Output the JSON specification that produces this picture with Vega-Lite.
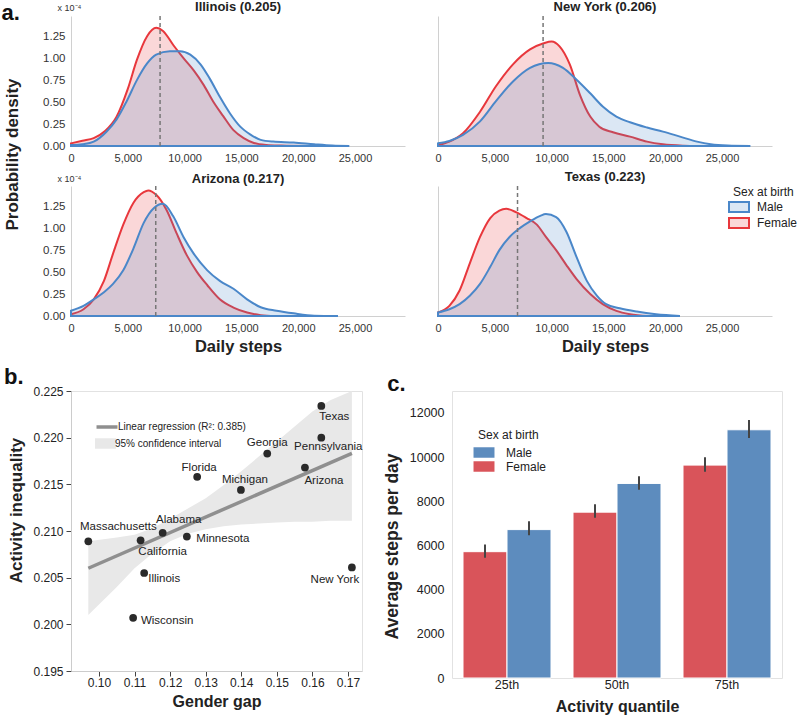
{
"$schema": "https://vega.github.io/schema/vega-lite/v6.json",
"padding": {"left": 1, "top": 0, "right": 0, "bottom": 0},
"config": {"font": "Liberation Sans", "view": {"stroke": null}, "title": {"font": "Liberation Sans"}},
"resolve": {"scale": {"fill": "independent", "stroke": "independent", "color": "independent"}},
"datasets": {
"kde": [
{"state":"Illinois","sex":"Female","steps":0,"density":0.03},{"state":"Illinois","sex":"Female","steps":1000,"density":0.06},{"state":"Illinois","sex":"Female","steps":2000,"density":0.09},{"state":"Illinois","sex":"Female","steps":3000,"density":0.17},{"state":"Illinois","sex":"Female","steps":4000,"density":0.33},{"state":"Illinois","sex":"Female","steps":5000,"density":0.65},{"state":"Illinois","sex":"Female","steps":5800,"density":0.98},{"state":"Illinois","sex":"Female","steps":6700,"density":1.25},{"state":"Illinois","sex":"Female","steps":7500,"density":1.345},{"state":"Illinois","sex":"Female","steps":8100,"density":1.31},{"state":"Illinois","sex":"Female","steps":9000,"density":1.15},{"state":"Illinois","sex":"Female","steps":9900,"density":1.0},{"state":"Illinois","sex":"Female","steps":10800,"density":0.86},{"state":"Illinois","sex":"Female","steps":11700,"density":0.69},{"state":"Illinois","sex":"Female","steps":12500,"density":0.51},{"state":"Illinois","sex":"Female","steps":13400,"density":0.34},{"state":"Illinois","sex":"Female","steps":14300,"density":0.18},{"state":"Illinois","sex":"Female","steps":15200,"density":0.09},{"state":"Illinois","sex":"Female","steps":16100,"density":0.035},{"state":"Illinois","sex":"Female","steps":17200,"density":0.012},{"state":"Illinois","sex":"Female","steps":18500,"density":0.005},{"state":"Illinois","sex":"Female","steps":21000,"density":0},
{"state":"Illinois","sex":"Male","steps":0,"density":0.01},{"state":"Illinois","sex":"Male","steps":1000,"density":0.02},{"state":"Illinois","sex":"Male","steps":2000,"density":0.05},{"state":"Illinois","sex":"Male","steps":3100,"density":0.16},{"state":"Illinois","sex":"Male","steps":4000,"density":0.3},{"state":"Illinois","sex":"Male","steps":4900,"density":0.51},{"state":"Illinois","sex":"Male","steps":5800,"density":0.75},{"state":"Illinois","sex":"Male","steps":6700,"density":0.94},{"state":"Illinois","sex":"Male","steps":7500,"density":1.04},{"state":"Illinois","sex":"Male","steps":8700,"density":1.08},{"state":"Illinois","sex":"Male","steps":9600,"density":1.08},{"state":"Illinois","sex":"Male","steps":10500,"density":1.04},{"state":"Illinois","sex":"Male","steps":11400,"density":0.93},{"state":"Illinois","sex":"Male","steps":12200,"density":0.77},{"state":"Illinois","sex":"Male","steps":13100,"density":0.56},{"state":"Illinois","sex":"Male","steps":14000,"density":0.37},{"state":"Illinois","sex":"Male","steps":14900,"density":0.22},{"state":"Illinois","sex":"Male","steps":15800,"density":0.13},{"state":"Illinois","sex":"Male","steps":16700,"density":0.07},{"state":"Illinois","sex":"Male","steps":17800,"density":0.05},{"state":"Illinois","sex":"Male","steps":19600,"density":0.04},{"state":"Illinois","sex":"Male","steps":21400,"density":0.02},{"state":"Illinois","sex":"Male","steps":23000,"density":0.005},{"state":"Illinois","sex":"Male","steps":24500,"density":0},
{"state":"New York","sex":"Female","steps":0,"density":0.01},{"state":"New York","sex":"Female","steps":1000,"density":0.05},{"state":"New York","sex":"Female","steps":2200,"density":0.145},{"state":"New York","sex":"Female","steps":3700,"density":0.39},{"state":"New York","sex":"Female","steps":5100,"density":0.68},{"state":"New York","sex":"Female","steps":6600,"density":0.93},{"state":"New York","sex":"Female","steps":8100,"density":1.1},{"state":"New York","sex":"Female","steps":9300,"density":1.17},{"state":"New York","sex":"Female","steps":10000,"density":1.19},{"state":"New York","sex":"Female","steps":10700,"density":1.135},{"state":"New York","sex":"Female","steps":11600,"density":0.93},{"state":"New York","sex":"Female","steps":12500,"density":0.58},{"state":"New York","sex":"Female","steps":13400,"density":0.335},{"state":"New York","sex":"Female","steps":14200,"density":0.22},{"state":"New York","sex":"Female","steps":15400,"density":0.156},{"state":"New York","sex":"Female","steps":16900,"density":0.107},{"state":"New York","sex":"Female","steps":18400,"density":0.05},{"state":"New York","sex":"Female","steps":19800,"density":0.02},{"state":"New York","sex":"Female","steps":21600,"density":0.004},{"state":"New York","sex":"Female","steps":23000,"density":0},
{"state":"New York","sex":"Male","steps":0,"density":0.03},{"state":"New York","sex":"Male","steps":1000,"density":0.057},{"state":"New York","sex":"Male","steps":2200,"density":0.126},{"state":"New York","sex":"Male","steps":3700,"density":0.28},{"state":"New York","sex":"Male","steps":5100,"density":0.51},{"state":"New York","sex":"Male","steps":6600,"density":0.735},{"state":"New York","sex":"Male","steps":8100,"density":0.89},{"state":"New York","sex":"Male","steps":9700,"density":0.945},{"state":"New York","sex":"Male","steps":11000,"density":0.89},{"state":"New York","sex":"Male","steps":12200,"density":0.755},{"state":"New York","sex":"Male","steps":13400,"density":0.6},{"state":"New York","sex":"Male","steps":14500,"density":0.45},{"state":"New York","sex":"Male","steps":15700,"density":0.335},{"state":"New York","sex":"Male","steps":16900,"density":0.27},{"state":"New York","sex":"Male","steps":18400,"density":0.21},{"state":"New York","sex":"Male","steps":19800,"density":0.164},{"state":"New York","sex":"Male","steps":21300,"density":0.107},{"state":"New York","sex":"Male","steps":22800,"density":0.05},{"state":"New York","sex":"Male","steps":24000,"density":0.02},{"state":"New York","sex":"Male","steps":25500,"density":0.005},{"state":"New York","sex":"Male","steps":27500,"density":0},
{"state":"Arizona","sex":"Female","steps":0,"density":0.02},{"state":"Arizona","sex":"Female","steps":1100,"density":0.077},{"state":"Arizona","sex":"Female","steps":2000,"density":0.19},{"state":"Arizona","sex":"Female","steps":2900,"density":0.4},{"state":"Arizona","sex":"Female","steps":3700,"density":0.71},{"state":"Arizona","sex":"Female","steps":4600,"density":1.04},{"state":"Arizona","sex":"Female","steps":5500,"density":1.29},{"state":"Arizona","sex":"Female","steps":6400,"density":1.41},{"state":"Arizona","sex":"Female","steps":6800,"density":1.43},{"state":"Arizona","sex":"Female","steps":7500,"density":1.38},{"state":"Arizona","sex":"Female","steps":8400,"density":1.21},{"state":"Arizona","sex":"Female","steps":9300,"density":0.94},{"state":"Arizona","sex":"Female","steps":10200,"density":0.69},{"state":"Arizona","sex":"Female","steps":11100,"density":0.5},{"state":"Arizona","sex":"Female","steps":12000,"density":0.35},{"state":"Arizona","sex":"Female","steps":13100,"density":0.19},{"state":"Arizona","sex":"Female","steps":14300,"density":0.096},{"state":"Arizona","sex":"Female","steps":15500,"density":0.04},{"state":"Arizona","sex":"Female","steps":16700,"density":0.01},{"state":"Arizona","sex":"Female","steps":18000,"density":0},
{"state":"Arizona","sex":"Male","steps":0,"density":0.06},{"state":"Arizona","sex":"Male","steps":1100,"density":0.115},{"state":"Arizona","sex":"Male","steps":2000,"density":0.19},{"state":"Arizona","sex":"Male","steps":2900,"density":0.27},{"state":"Arizona","sex":"Male","steps":3700,"density":0.365},{"state":"Arizona","sex":"Male","steps":4600,"density":0.52},{"state":"Arizona","sex":"Male","steps":5500,"density":0.77},{"state":"Arizona","sex":"Male","steps":6400,"density":1.06},{"state":"Arizona","sex":"Male","steps":7300,"density":1.23},{"state":"Arizona","sex":"Male","steps":8100,"density":1.277},{"state":"Arizona","sex":"Male","steps":9000,"density":1.135},{"state":"Arizona","sex":"Male","steps":9900,"density":0.9},{"state":"Arizona","sex":"Male","steps":10800,"density":0.71},{"state":"Arizona","sex":"Male","steps":12000,"density":0.52},{"state":"Arizona","sex":"Male","steps":13100,"density":0.4},{"state":"Arizona","sex":"Male","steps":14300,"density":0.31},{"state":"Arizona","sex":"Male","steps":15500,"density":0.19},{"state":"Arizona","sex":"Male","steps":16700,"density":0.1},{"state":"Arizona","sex":"Male","steps":18100,"density":0.06},{"state":"Arizona","sex":"Male","steps":19600,"density":0.03},{"state":"Arizona","sex":"Male","steps":21400,"density":0.004},{"state":"Arizona","sex":"Male","steps":23500,"density":0},
{"state":"Texas","sex":"Female","steps":0,"density":0.04},{"state":"Texas","sex":"Female","steps":1000,"density":0.115},{"state":"Texas","sex":"Female","steps":1900,"density":0.29},{"state":"Texas","sex":"Female","steps":2800,"density":0.6},{"state":"Texas","sex":"Female","steps":3700,"density":0.9},{"state":"Texas","sex":"Female","steps":4600,"density":1.115},{"state":"Texas","sex":"Female","steps":5400,"density":1.2},{"state":"Texas","sex":"Female","steps":6000,"density":1.22},{"state":"Texas","sex":"Female","steps":6900,"density":1.18},{"state":"Texas","sex":"Female","steps":7800,"density":1.115},{"state":"Texas","sex":"Female","steps":8700,"density":1.04},{"state":"Texas","sex":"Female","steps":9500,"density":0.9},{"state":"Texas","sex":"Female","steps":10400,"density":0.75},{"state":"Texas","sex":"Female","steps":11300,"density":0.58},{"state":"Texas","sex":"Female","steps":12200,"density":0.42},{"state":"Texas","sex":"Female","steps":13400,"density":0.25},{"state":"Texas","sex":"Female","steps":14500,"density":0.135},{"state":"Texas","sex":"Female","steps":15700,"density":0.058},{"state":"Texas","sex":"Female","steps":16900,"density":0.02},{"state":"Texas","sex":"Female","steps":18500,"density":0},
{"state":"Texas","sex":"Male","steps":0,"density":0.04},{"state":"Texas","sex":"Male","steps":1000,"density":0.077},{"state":"Texas","sex":"Male","steps":1900,"density":0.135},{"state":"Texas","sex":"Male","steps":2800,"density":0.23},{"state":"Texas","sex":"Male","steps":3700,"density":0.365},{"state":"Texas","sex":"Male","steps":4600,"density":0.56},{"state":"Texas","sex":"Male","steps":5400,"density":0.75},{"state":"Texas","sex":"Male","steps":6300,"density":0.9},{"state":"Texas","sex":"Male","steps":7200,"density":1.0},{"state":"Texas","sex":"Male","steps":8100,"density":1.077},{"state":"Texas","sex":"Male","steps":9000,"density":1.14},{"state":"Texas","sex":"Male","steps":9500,"density":1.16},{"state":"Texas","sex":"Male","steps":10400,"density":1.127},{"state":"Texas","sex":"Male","steps":11300,"density":0.96},{"state":"Texas","sex":"Male","steps":12200,"density":0.67},{"state":"Texas","sex":"Male","steps":13100,"density":0.4},{"state":"Texas","sex":"Male","steps":14000,"density":0.23},{"state":"Texas","sex":"Male","steps":14800,"density":0.135},{"state":"Texas","sex":"Male","steps":16000,"density":0.088},{"state":"Texas","sex":"Male","steps":17500,"density":0.05},{"state":"Texas","sex":"Male","steps":19200,"density":0.02},{"state":"Texas","sex":"Male","steps":21300,"density":0}
],
"med": [{"state":"Illinois","median":7840},{"state":"New York","median":9250},{"state":"Arizona","median":7460},{"state":"Texas","median":7000}],
"gap": [
{"state":"Massachusetts","gap":0.097,"inequality":0.2089},{"state":"California","gap":0.1117,"inequality":0.209},{"state":"Alabama","gap":0.1179,"inequality":0.2098},{"state":"Minnesota","gap":0.1247,"inequality":0.2094},{"state":"Illinois","gap":0.1127,"inequality":0.2055},{"state":"Wisconsin","gap":0.1096,"inequality":0.2007},{"state":"Florida","gap":0.1276,"inequality":0.2158},{"state":"Michigan","gap":0.1399,"inequality":0.2144},{"state":"Georgia","gap":0.1473,"inequality":0.2183},{"state":"Arizona","gap":0.1579,"inequality":0.2168},{"state":"Pennsylvania","gap":0.1625,"inequality":0.22},{"state":"Texas","gap":0.1625,"inequality":0.2234},{"state":"New York","gap":0.1711,"inequality":0.2061}
],
"ci": [
{"gap":0.097,"lo":0.201,"hi":0.2089},{"gap":0.105,"lo":0.204,"hi":0.2093},{"gap":0.11,"lo":0.206,"hi":0.2096},{"gap":0.115,"lo":0.2076,"hi":0.2103},{"gap":0.12,"lo":0.2089,"hi":0.2113},{"gap":0.125,"lo":0.2097,"hi":0.2124},{"gap":0.13,"lo":0.2102,"hi":0.2135},{"gap":0.135,"lo":0.2105,"hi":0.2149},{"gap":0.14,"lo":0.2107,"hi":0.2164},{"gap":0.145,"lo":0.2108,"hi":0.218},{"gap":0.15,"lo":0.2109,"hi":0.2196},{"gap":0.155,"lo":0.211,"hi":0.2212},{"gap":0.16,"lo":0.211,"hi":0.2228},{"gap":0.165,"lo":0.2111,"hi":0.224},{"gap":0.1711,"lo":0.2111,"hi":0.225}
],
"bars": [
{"quantile":"25th","sex":"Female","steps":5720,"lo":5450,"hi":6050},{"quantile":"25th","sex":"Male","steps":6720,"lo":6460,"hi":7100},{"quantile":"50th","sex":"Female","steps":7510,"lo":7260,"hi":7870},{"quantile":"50th","sex":"Male","steps":8810,"lo":8520,"hi":9140},{"quantile":"75th","sex":"Female","steps":9640,"lo":9340,"hi":10000},{"quantile":"75th","sex":"Male","steps":11240,"lo":10870,"hi":11680}
]
},
"align": "none",
"spacing": 10,
"vconcat": [
{
"columns": 2,
"spacing": {"row": 40, "column": 33},
"bounds": "flush",
"resolve": {"scale": {"fill": "independent", "stroke": "independent"}},
"concat": [
{
"width": 334, "height": 130,
"title": {"text": "Illinois (0.205)", "fontSize": 13, "fontWeight": "bold", "offset": -12, "color": "#222"},
"resolve": {"axis": {"x": "independent", "y": "independent"}},
"layer": [
{"data": {"name": "kde"}, "transform": [{"filter": "datum.state === 'Illinois' && datum.sex === 'Female'"}],
"mark": {"type": "area", "interpolate": "monotone", "fillOpacity": 0.2, "strokeWidth": 2},
"encoding": {
"x": {"field": "steps", "type": "quantitative", "scale": {"domain": [0, 29400], "nice": false, "zero": false}, "axis": {"orient": "bottom", "values": [0, 5000, 10000, 15000, 20000, 25000], "format": ",d", "labelFontSize": 11, "labelColor": "#333", "ticks": false, "domainColor": "#d0d0d0", "grid": false, "labelPadding": 6, "labelFlush": false, "title": null}},
"y": {"field": "density", "type": "quantitative", "scale": {"domain": [0, 1.48], "nice": false}, "axis": {"orient": "left", "values": [0, 0.25, 0.5, 0.75, 1, 1.25], "format": ".2f", "labelFontSize": 11.5, "labelColor": "#333", "ticks": false, "domainColor": "#d0d0d0", "grid": false, "labelPadding": 6, "title": "x 10⁻⁴", "titleAngle": 0, "titleX": -2, "titleY": -9, "titleAlign": "center", "titleBaseline": "middle", "titleFontSize": 9, "titleFontWeight": "normal", "titleColor": "#333"}},
"fill": {"field": "sex", "type": "nominal", "scale": {"domain": ["Male", "Female"], "range": ["#4a87c9", "#e8373c"]}, "legend": null},
"stroke": {"field": "sex", "type": "nominal", "scale": {"domain": ["Male", "Female"], "range": ["#4a87c9", "#e8373c"]}, "legend": null}
}},
{"data": {"name": "kde"}, "transform": [{"filter": "datum.state === 'Illinois' && datum.sex === 'Male'"}],
"mark": {"type": "area", "interpolate": "monotone", "fillOpacity": 0.2, "strokeWidth": 2},
"encoding": {
"x": {"field": "steps", "type": "quantitative", "axis": null},
"y": {"field": "density", "type": "quantitative", "axis": {"orient": "left", "labels": false, "ticks": false, "domain": false, "grid": false, "title": "Probability density", "titleX": -59, "titleY": 138, "titleAngle": -90, "titleAlign": "center", "titleBaseline": "middle", "titleFontSize": 17, "titleFontWeight": "bold", "titleColor": "#222"}},
"fill": {"field": "sex", "type": "nominal", "scale": {"domain": ["Male", "Female"], "range": ["#4a87c9", "#e8373c"]}, "legend": null},
"stroke": {"field": "sex", "type": "nominal", "scale": {"domain": ["Male", "Female"], "range": ["#4a87c9", "#e8373c"]}, "legend": null}
}},
{"data": {"name": "med"}, "transform": [{"filter": "datum.state === 'Illinois'"}],
"mark": {"type": "rule", "strokeDash": [4, 3], "color": "#777777", "strokeWidth": 1.5},
"encoding": {"x": {"field": "median", "type": "quantitative", "axis": {"orient": "top", "labels": false, "ticks": false, "domain": false, "grid": false, "title": "a.", "titleX": -70, "titleY": 3.5, "titleAlign": "left", "titleBaseline": "alphabetic", "titleAngle": 0, "titleFontSize": 22, "titleFontWeight": "bold", "titleColor": "#111"}}}}
]
},
{
"width": 334, "height": 130,
"title": {"text": "New York (0.206)", "fontSize": 13, "fontWeight": "bold", "offset": 1, "color": "#222"},
"layer": [
{"data": {"name": "kde"}, "transform": [{"filter": "datum.state === 'New York' && datum.sex === 'Female'"}],
"mark": {"type": "area", "interpolate": "monotone", "fillOpacity": 0.2, "strokeWidth": 2},
"encoding": {
"x": {"field": "steps", "type": "quantitative", "scale": {"domain": [0, 29400], "nice": false, "zero": false}, "axis": {"values": [0, 5000, 10000, 15000, 20000, 25000], "format": ",d", "labelFontSize": 11, "labelColor": "#333", "ticks": false, "domainColor": "#d0d0d0", "grid": false, "labelPadding": 6, "labelFlush": false, "title": null}},
"y": {"field": "density", "type": "quantitative", "scale": {"domain": [0, 1.48], "nice": false}, "axis": {"labels": false, "ticks": false, "domainColor": "#d0d0d0", "grid": false, "title": null}},
"fill": {"field": "sex", "type": "nominal", "scale": {"domain": ["Male", "Female"], "range": ["#4a87c9", "#e8373c"]}, "legend": null},
"stroke": {"field": "sex", "type": "nominal", "scale": {"domain": ["Male", "Female"], "range": ["#4a87c9", "#e8373c"]}, "legend": null}
}},
{"data": {"name": "kde"}, "transform": [{"filter": "datum.state === 'New York' && datum.sex === 'Male'"}],
"mark": {"type": "area", "interpolate": "monotone", "fillOpacity": 0.2, "strokeWidth": 2},
"encoding": {
"x": {"field": "steps", "type": "quantitative"},
"y": {"field": "density", "type": "quantitative", "axis": {"labels": false, "ticks": false, "domainColor": "#d0d0d0", "grid": false, "title": null}},
"fill": {"field": "sex", "type": "nominal", "scale": {"domain": ["Male", "Female"], "range": ["#4a87c9", "#e8373c"]}, "legend": null},
"stroke": {"field": "sex", "type": "nominal", "scale": {"domain": ["Male", "Female"], "range": ["#4a87c9", "#e8373c"]}, "legend": null}
}},
{"data": {"name": "med"}, "transform": [{"filter": "datum.state === 'New York'"}],
"mark": {"type": "rule", "strokeDash": [4, 3], "color": "#777777", "strokeWidth": 1.5},
"encoding": {"x": {"field": "median", "type": "quantitative"}}}
]
},
{
"width": 334, "height": 130,
"title": {"text": "Arizona (0.217)", "fontSize": 13, "fontWeight": "bold", "offset": -12, "color": "#222"},
"resolve": {"axis": {"y": "independent"}},
"layer": [
{"data": {"name": "kde"}, "transform": [{"filter": "datum.state === 'Arizona' && datum.sex === 'Female'"}],
"mark": {"type": "area", "interpolate": "monotone", "fillOpacity": 0.2, "strokeWidth": 2},
"encoding": {
"x": {"field": "steps", "type": "quantitative", "scale": {"domain": [0, 29400], "nice": false, "zero": false}, "axis": {"values": [0, 5000, 10000, 15000, 20000, 25000], "format": ",d", "labelFontSize": 11, "labelColor": "#333", "ticks": false, "domainColor": "#d0d0d0", "grid": false, "labelPadding": 6, "labelFlush": false, "title": "Daily steps", "titleFontSize": 16.5, "titleFontWeight": "bold", "titleColor": "#222", "titlePadding": 5}},
"y": {"field": "density", "type": "quantitative", "scale": {"domain": [0, 1.48], "nice": false}, "axis": {"orient": "left", "values": [0, 0.25, 0.5, 0.75, 1, 1.25], "format": ".2f", "labelFontSize": 11.5, "labelColor": "#333", "ticks": false, "domainColor": "#d0d0d0", "grid": false, "labelPadding": 6, "title": "x 10⁻⁴", "titleAngle": 0, "titleX": -2, "titleY": -8, "titleAlign": "center", "titleBaseline": "middle", "titleFontSize": 9, "titleFontWeight": "normal", "titleColor": "#333"}},
"fill": {"field": "sex", "type": "nominal", "scale": {"domain": ["Male", "Female"], "range": ["#4a87c9", "#e8373c"]}, "legend": null},
"stroke": {"field": "sex", "type": "nominal", "scale": {"domain": ["Male", "Female"], "range": ["#4a87c9", "#e8373c"]}, "legend": null}
}},
{"data": {"name": "kde"}, "transform": [{"filter": "datum.state === 'Arizona' && datum.sex === 'Male'"}],
"mark": {"type": "area", "interpolate": "monotone", "fillOpacity": 0.2, "strokeWidth": 2},
"encoding": {
"x": {"field": "steps", "type": "quantitative"},
"y": {"field": "density", "type": "quantitative", "axis": null},
"fill": {"field": "sex", "type": "nominal", "scale": {"domain": ["Male", "Female"], "range": ["#4a87c9", "#e8373c"]}, "legend": null},
"stroke": {"field": "sex", "type": "nominal", "scale": {"domain": ["Male", "Female"], "range": ["#4a87c9", "#e8373c"]}, "legend": null}
}},
{"data": {"name": "med"}, "transform": [{"filter": "datum.state === 'Arizona'"}],
"mark": {"type": "rule", "strokeDash": [4, 3], "color": "#777777", "strokeWidth": 1.5},
"encoding": {"x": {"field": "median", "type": "quantitative"}}}
]
},
{
"width": 334, "height": 130,
"title": {"text": "Texas (0.223)", "fontSize": 13, "fontWeight": "bold", "offset": 1, "color": "#222"},
"layer": [
{"data": {"name": "kde"}, "transform": [{"filter": "datum.state === 'Texas' && datum.sex === 'Female'"}],
"mark": {"type": "area", "interpolate": "monotone", "fillOpacity": 0.2, "strokeWidth": 2},
"encoding": {
"x": {"field": "steps", "type": "quantitative", "scale": {"domain": [0, 29400], "nice": false, "zero": false}, "axis": {"values": [0, 5000, 10000, 15000, 20000, 25000], "format": ",d", "labelFontSize": 11, "labelColor": "#333", "ticks": false, "domainColor": "#d0d0d0", "grid": false, "labelPadding": 6, "labelFlush": false, "title": "Daily steps", "titleFontSize": 16.5, "titleFontWeight": "bold", "titleColor": "#222", "titlePadding": 5}},
"y": {"field": "density", "type": "quantitative", "scale": {"domain": [0, 1.48], "nice": false}, "axis": {"labels": false, "ticks": false, "domainColor": "#d0d0d0", "grid": false, "title": null}},
"fill": {"field": "sex", "type": "nominal", "scale": {"domain": ["Male", "Female"], "range": ["#4a87c9", "#e8373c"]}, "legend": {"title": "Sex at birth", "orient": "none", "legendX": 295, "legendY": 0.5, "titleFontSize": 12, "titleFontWeight": "normal", "titleColor": "#222", "labelFontSize": 12, "labelColor": "#222", "symbolType": "M-2,-1H2V1H-2Z", "symbolSize": 100, "symbolStrokeWidth": 2, "rowPadding": -2, "titlePadding": 2.5, "labelOffset": 12, "encode": {"symbols": {"update": {"fillOpacity": {"value": 0.2}}}}}},
"stroke": {"field": "sex", "type": "nominal", "scale": {"domain": ["Male", "Female"], "range": ["#4a87c9", "#e8373c"]}, "legend": {"title": "Sex at birth", "orient": "none", "legendX": 295, "legendY": 0.5, "titleFontSize": 12, "titleFontWeight": "normal", "titleColor": "#222", "labelFontSize": 12, "labelColor": "#222", "symbolType": "M-2,-1H2V1H-2Z", "symbolSize": 100, "symbolStrokeWidth": 2, "rowPadding": -2, "titlePadding": 2.5, "labelOffset": 12, "encode": {"symbols": {"update": {"fillOpacity": {"value": 0.2}}}}}}
}},
{"data": {"name": "kde"}, "transform": [{"filter": "datum.state === 'Texas' && datum.sex === 'Male'"}],
"mark": {"type": "area", "interpolate": "monotone", "fillOpacity": 0.2, "strokeWidth": 2},
"encoding": {
"x": {"field": "steps", "type": "quantitative"},
"y": {"field": "density", "type": "quantitative", "axis": {"labels": false, "ticks": false, "domainColor": "#d0d0d0", "grid": false, "title": null}},
"fill": {"field": "sex", "type": "nominal", "scale": {"domain": ["Male", "Female"], "range": ["#4a87c9", "#e8373c"]}, "legend": {"title": "Sex at birth", "orient": "none", "legendX": 295, "legendY": 0.5, "titleFontSize": 12, "titleFontWeight": "normal", "titleColor": "#222", "labelFontSize": 12, "labelColor": "#222", "symbolType": "M-2,-1H2V1H-2Z", "symbolSize": 100, "symbolStrokeWidth": 2, "rowPadding": -2, "titlePadding": 2.5, "labelOffset": 12, "encode": {"symbols": {"update": {"fillOpacity": {"value": 0.2}}}}}},
"stroke": {"field": "sex", "type": "nominal", "scale": {"domain": ["Male", "Female"], "range": ["#4a87c9", "#e8373c"]}, "legend": {"title": "Sex at birth", "orient": "none", "legendX": 295, "legendY": 0.5, "titleFontSize": 12, "titleFontWeight": "normal", "titleColor": "#222", "labelFontSize": 12, "labelColor": "#222", "symbolType": "M-2,-1H2V1H-2Z", "symbolSize": 100, "symbolStrokeWidth": 2, "rowPadding": -2, "titlePadding": 2.5, "labelOffset": 12, "encode": {"symbols": {"update": {"fillOpacity": {"value": 0.2}}}}}}
}},
{"data": {"name": "med"}, "transform": [{"filter": "datum.state === 'Texas'"}],
"mark": {"type": "rule", "strokeDash": [4, 3], "color": "#777777", "strokeWidth": 1.5},
"encoding": {"x": {"field": "median", "type": "quantitative"}}}
]
}
]
},
{
"spacing": 90,
"bounds": "flush",
"align": "none",
"resolve": {"scale": {"fill": "independent", "stroke": "independent", "color": "independent"}},
"hconcat": [
{
"width": 291, "height": 280,
"title": {"text": "b.", "anchor": "start", "fontSize": 22, "fontWeight": "bold", "offset": -4, "dx": -4, "color": "#111"},
"view": {"stroke": "#e2e2e2"},
"layer": [
{"data": {"name": "ci"},
"mark": {"type": "area", "opacity": 1},
"encoding": {
"x": {"field": "gap", "type": "quantitative", "scale": {"domain": [0.09213, 0.17394], "nice": false, "zero": false}, "axis": {"values": [0.1, 0.11, 0.12, 0.13, 0.14, 0.15, 0.16, 0.17], "format": ".2f", "labelFontSize": 12, "labelColor": "#222", "ticks": true, "tickSize": 5, "tickColor": "#444", "domainColor": "#cccccc", "grid": false, "labelPadding": 1, "title": "Gender gap", "titleFontSize": 16, "titleFontWeight": "bold", "titleColor": "#222", "titlePadding": 5}},
"y": {"field": "lo", "type": "quantitative", "scale": {"domain": [0.195, 0.225], "nice": false, "zero": false}, "axis": {"values": [0.195, 0.2, 0.205, 0.21, 0.215, 0.22, 0.225], "format": ".3f", "labelFontSize": 12, "labelColor": "#222", "ticks": true, "tickSize": 5, "tickColor": "#444", "domainColor": "#cccccc", "grid": false, "labelPadding": 3, "title": "Activity inequality", "titleFontSize": 17, "titleFontWeight": "bold", "titleColor": "#222", "titlePadding": 7, "titleY": 119}},
"y2": {"field": "hi"},
"fill": {"datum": "95% confidence interval", "scale": {"range": ["#e8e8e8"]}, "legend": {"title": null, "orient": "none", "legendX": 29, "legendY": 47, "labelFontSize": 10, "labelColor": "#222", "symbolType": "M-2,-1H2V1H-2Z", "symbolSize": 110, "symbolStrokeWidth": 0, "labelOffset": 4}}
}},
{"data": {"name": "gap"},
"transform": [{"regression": "inequality", "on": "gap"}],
"mark": {"type": "line", "strokeWidth": 3.5},
"encoding": {
"x": {"field": "gap", "type": "quantitative"},
"y": {"field": "inequality", "type": "quantitative"},
"stroke": {"datum": "Linear regression (R²: 0.385)", "scale": {"range": ["#8f8f8f"]}, "legend": {"title": null, "orient": "none", "legendX": 29, "legendY": 29, "labelFontSize": 10, "labelColor": "#222", "symbolType": "M-2,0H2", "symbolSize": 110, "symbolStrokeWidth": 3.5, "labelOffset": 4}}
}},
{"data": {"name": "gap"},
"mark": {"type": "circle", "size": 60, "color": "#2a2a2a", "opacity": 1},
"encoding": {
"x": {"field": "gap", "type": "quantitative"},
"y": {"field": "inequality", "type": "quantitative"}
}},
{"data": {"name": "gap"}, "transform": [{"filter": "datum.state === 'Massachusetts'"}], "mark": {"type": "text", "dx": 30, "dy": -14, "fontSize": 11.5, "color": "#222"}, "encoding": {"x": {"field": "gap", "type": "quantitative"}, "y": {"field": "inequality", "type": "quantitative"}, "text": {"field": "state"}}},
{"data": {"name": "gap"}, "transform": [{"filter": "datum.state === 'California'"}], "mark": {"type": "text", "dx": 22, "dy": 12, "fontSize": 11.5, "color": "#222"}, "encoding": {"x": {"field": "gap", "type": "quantitative"}, "y": {"field": "inequality", "type": "quantitative"}, "text": {"field": "state"}}},
{"data": {"name": "gap"}, "transform": [{"filter": "datum.state === 'Alabama'"}], "mark": {"type": "text", "dx": 16, "dy": -13, "fontSize": 11.5, "color": "#222"}, "encoding": {"x": {"field": "gap", "type": "quantitative"}, "y": {"field": "inequality", "type": "quantitative"}, "text": {"field": "state"}}},
{"data": {"name": "gap"}, "transform": [{"filter": "datum.state === 'Minnesota'"}], "mark": {"type": "text", "dx": 36, "dy": 2, "fontSize": 11.5, "color": "#222"}, "encoding": {"x": {"field": "gap", "type": "quantitative"}, "y": {"field": "inequality", "type": "quantitative"}, "text": {"field": "state"}}},
{"data": {"name": "gap"}, "transform": [{"filter": "datum.state === 'Illinois'"}], "mark": {"type": "text", "dx": 20, "dy": 6, "fontSize": 11.5, "color": "#222"}, "encoding": {"x": {"field": "gap", "type": "quantitative"}, "y": {"field": "inequality", "type": "quantitative"}, "text": {"field": "state"}}},
{"data": {"name": "gap"}, "transform": [{"filter": "datum.state === 'Wisconsin'"}], "mark": {"type": "text", "dx": 34, "dy": 3, "fontSize": 11.5, "color": "#222"}, "encoding": {"x": {"field": "gap", "type": "quantitative"}, "y": {"field": "inequality", "type": "quantitative"}, "text": {"field": "state"}}},
{"data": {"name": "gap"}, "transform": [{"filter": "datum.state === 'Florida'"}], "mark": {"type": "text", "dx": 2, "dy": -9, "fontSize": 11.5, "color": "#222"}, "encoding": {"x": {"field": "gap", "type": "quantitative"}, "y": {"field": "inequality", "type": "quantitative"}, "text": {"field": "state"}}},
{"data": {"name": "gap"}, "transform": [{"filter": "datum.state === 'Michigan'"}], "mark": {"type": "text", "dx": 4, "dy": -10, "fontSize": 11.5, "color": "#222"}, "encoding": {"x": {"field": "gap", "type": "quantitative"}, "y": {"field": "inequality", "type": "quantitative"}, "text": {"field": "state"}}},
{"data": {"name": "gap"}, "transform": [{"filter": "datum.state === 'Georgia'"}], "mark": {"type": "text", "dx": 0, "dy": -11, "fontSize": 11.5, "color": "#222"}, "encoding": {"x": {"field": "gap", "type": "quantitative"}, "y": {"field": "inequality", "type": "quantitative"}, "text": {"field": "state"}}},
{"data": {"name": "gap"}, "transform": [{"filter": "datum.state === 'Arizona'"}], "mark": {"type": "text", "dx": 19, "dy": 13, "fontSize": 11.5, "color": "#222"}, "encoding": {"x": {"field": "gap", "type": "quantitative"}, "y": {"field": "inequality", "type": "quantitative"}, "text": {"field": "state"}}},
{"data": {"name": "gap"}, "transform": [{"filter": "datum.state === 'Pennsylvania'"}], "mark": {"type": "text", "dx": 7, "dy": 9, "fontSize": 11.5, "color": "#222"}, "encoding": {"x": {"field": "gap", "type": "quantitative"}, "y": {"field": "inequality", "type": "quantitative"}, "text": {"field": "state"}}},
{"data": {"name": "gap"}, "transform": [{"filter": "datum.state === 'Texas'"}], "mark": {"type": "text", "dx": 13, "dy": 11, "fontSize": 11.5, "color": "#222"}, "encoding": {"x": {"field": "gap", "type": "quantitative"}, "y": {"field": "inequality", "type": "quantitative"}, "text": {"field": "state"}}},
{"data": {"name": "gap"}, "transform": [{"filter": "datum.state === 'New York'"}], "mark": {"type": "text", "dx": -17, "dy": 13, "fontSize": 11.5, "color": "#222"}, "encoding": {"x": {"field": "gap", "type": "quantitative"}, "y": {"field": "inequality", "type": "quantitative"}, "text": {"field": "state"}}}
]
},
{
"width": 330, "height": 287,
"title": {"text": "c.", "anchor": "start", "fontSize": 22, "fontWeight": "bold", "offset": -5, "dx": 4, "color": "#111"},
"view": {"stroke": "#e2e2e2"},
"data": {"name": "bars"},
"layer": [
{"mark": {"type": "bar", "stroke": "#ffffff", "strokeWidth": 1},
"encoding": {
"x": {"field": "quantile", "type": "nominal", "sort": ["25th", "50th", "75th"], "scale": {"paddingInner": 0.2, "paddingOuter": 0.1}, "axis": {"labelAngle": 0, "labelFontSize": 12.5, "labelColor": "#222", "ticks": false, "domain": false, "labelPadding": 0, "title": "Activity quantile", "titleFontSize": 16, "titleFontWeight": "bold", "titleColor": "#222", "titlePadding": 8}},
"xOffset": {"field": "sex", "type": "nominal", "scale": {"domain": ["Female", "Male"]}},
"y": {"field": "steps", "type": "quantitative", "scale": {"domain": [0, 12996], "nice": false}, "axis": {"values": [0, 2000, 4000, 6000, 8000, 10000, 12000], "format": "d", "labelFontSize": 12.5, "labelColor": "#222", "ticks": false, "domain": false, "grid": false, "labelPadding": 8, "title": "Average steps per day", "titleFontSize": 17.5, "titleFontWeight": "bold", "titleColor": "#222", "titlePadding": 8, "titleY": 155}},
"color": {"field": "sex", "type": "nominal", "scale": {"domain": ["Male", "Female"], "range": ["#5d8cbe", "#d9545a"]}, "legend": {"title": "Sex at birth", "orient": "none", "legendX": 26, "legendY": 39, "titleFontSize": 12, "titleFontWeight": "normal", "titleColor": "#222", "labelFontSize": 12, "labelColor": "#222", "symbolType": "M-2,-1H2V1H-2Z", "symbolSize": 110, "symbolStrokeWidth": 0, "symbolOpacity": 1, "rowPadding": 2, "titlePadding": 4.5, "labelOffset": 16}}
}},
{"mark": {"type": "rule", "color": "#444444", "strokeWidth": 2},
"encoding": {
"x": {"field": "quantile", "type": "nominal", "sort": ["25th", "50th", "75th"]},
"xOffset": {"field": "sex", "type": "nominal"},
"y": {"field": "lo", "type": "quantitative"},
"y2": {"field": "hi"}
}}
]
}
]
}
]
}
